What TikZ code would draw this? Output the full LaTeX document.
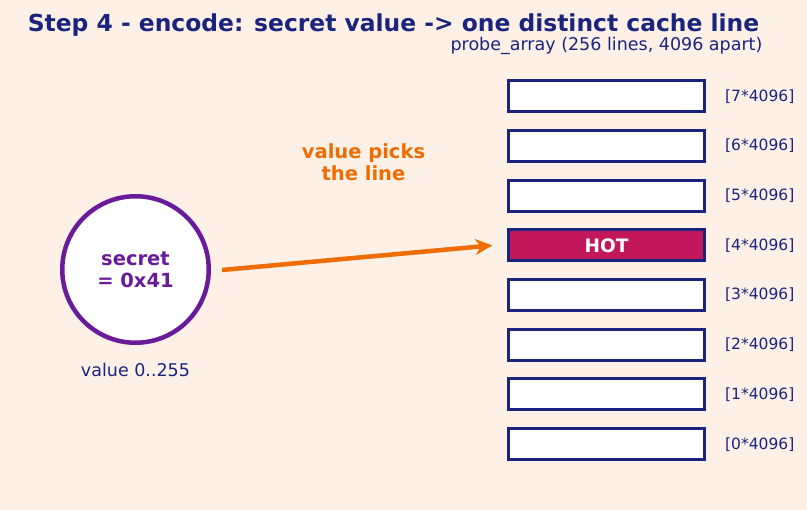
\documentclass[tikz,border=0pt]{standalone}
\usepackage{fontspec}
\setmainfont{DejaVu Sans}
\usetikzlibrary{arrows.meta}
\definecolor{bg}{HTML}{FDF1E7}
\definecolor{navy}{HTML}{1A237E}
\definecolor{purp}{HTML}{6A1B9A}
\definecolor{orng}{HTML}{EF6C00}
\definecolor{hot}{HTML}{C2185B}
\tikzset{
  line/.style={draw=navy, line width=3pt, fill=white, minimum width=195.5pt, minimum height=31pt, inner sep=0pt},
  hotline/.style={line, fill=hot},
  addr/.style={anchor=west, text=navy, font=\fontsize{15.5}{18}\selectfont, inner sep=0pt},
  secretnode/.style={circle, draw=purp, line width=4.5pt, fill=white, minimum size=146.5pt, inner sep=0pt, align=center, text=purp, font=\bfseries\fontsize{19.5}{22}\selectfont},
  pick/.style={-{Stealth[length=17pt,width=16pt]}, draw=orng, line width=4.5pt}
}
\begin{document}
\begin{tikzpicture}[x=1pt,y=-1pt]
\fill[bg] (0,0) rectangle (807,510);
\useasboundingbox (0,0) rectangle (807,510);
\node[text=navy, font=\bfseries\fontsize{23.4}{28}\selectfont] (title) at (393.5,25) {Step 4 - encode: secret value -> one distinct cache line};
\node[text=navy, font=\fontsize{17.5}{20}\selectfont] (sub) at (606.5,46) {probe\_array (256 lines, 4096 apart)};
\foreach \k in {0,...,7} {
  \pgfmathsetmacro{\yy}{96.3+49.7*(7-\k)}
  \ifnum\k=4
    \node[hotline, text=white, font=\bfseries\fontsize{18.5}{20}\selectfont] (b\k) at (606.5,\yy) {HOT};
  \else
    \node[line] (b\k) at (606.5,\yy) {};
  \fi
  \node[addr] (l\k) at (725,\yy) {[\k*4096]};
}
\node[secretnode] (c) at (135.5,269.5) {secret\\= 0x41};
\node[text=navy, font=\fontsize{17.5}{20}\selectfont] (vr) at (135.5,370) {value 0..255};
\node[text=orng, align=center, font=\bfseries\fontsize{19.5}{22}\selectfont] (pk) at (363.5,162) {value picks\\the line};
\draw[pick] ([xshift=11pt,yshift=-0.5pt]c.east) -- ([xshift=-15pt]b4.west);
\end{tikzpicture}
\end{document}
